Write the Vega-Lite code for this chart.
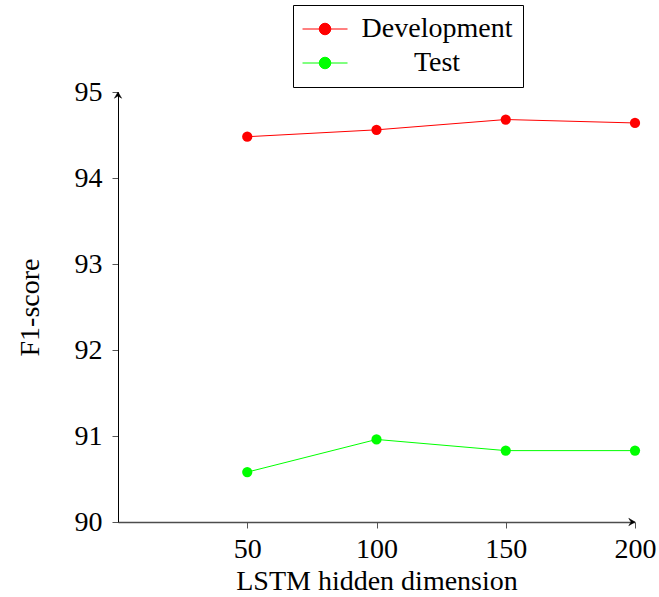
{
  "$schema": "https://vega.github.io/schema/vega-lite/v6.json",
  "width": 517,
  "height": 430,
  "autosize": {"type": "none"},
  "padding": {"left": 118, "top": 92, "right": 24, "bottom": 75},
  "background": "white",
  "config": {
    "view": {"stroke": null},
    "font": "Liberation Serif",
    "axis": {
      "grid": false,
      "labelFont": "Liberation Serif",
      "titleFont": "Liberation Serif",
      "labelFontSize": 28,
      "titleFontSize": 28,
      "titleFontWeight": "normal",
      "labelColor": "black",
      "titleColor": "black",
      "domainColor": "black",
      "tickColor": "#555555",
      "tickSize": 6,
      "labelFlush": false,
      "labelOverlap": false
    }
  },
  "datasets": {
    "scores": [
      {"dim": 50, "f1": 94.48, "set": "Development"},
      {"dim": 100, "f1": 94.56, "set": "Development"},
      {"dim": 150, "f1": 94.68, "set": "Development"},
      {"dim": 200, "f1": 94.64, "set": "Development"},
      {"dim": 50, "f1": 90.58, "set": "Test"},
      {"dim": 100, "f1": 90.96, "set": "Test"},
      {"dim": 150, "f1": 90.83, "set": "Test"},
      {"dim": 200, "f1": 90.83, "set": "Test"}
    ],
    "arrows": [
      {"dim": 0, "f1": 95, "dir": "up"},
      {"dim": 200, "f1": 90, "dir": "right"}
    ]
  },
  "layer": [
    {
      "data": {"name": "scores"},
      "mark": {"type": "line", "strokeWidth": 1},
      "encoding": {
        "x": {
          "field": "dim", "type": "quantitative",
          "scale": {"domain": [0, 200], "nice": false},
          "axis": {"values": [50, 100, 150, 200], "format": "d", "title": "LSTM hidden dimension", "labelFont": "Liberation Serif", "titleFont": "Liberation Serif", "labelPadding": 7, "titlePadding": 4, "domainColor": "#4d4d4d", "domainWidth": 1.5}
        },
        "y": {
          "field": "f1", "type": "quantitative",
          "scale": {"domain": [90, 95], "zero": false, "nice": false},
          "axis": {"values": [90, 91, 92, 93, 94, 95], "format": "d", "title": "F1-score", "labelFont": "Liberation Serif", "titleFont": "Liberation Serif", "labelPadding": 10, "titlePadding": 30}
        },
        "color": {
          "field": "set", "type": "nominal",
          "scale": {"domain": ["Development", "Test"], "range": ["#ff0000", "#00ff00"]},
          "legend": {
            "orient": "none", "legendX": 175, "legendY": -87, "title": null,
            "symbolType": "M-1.93,0H4.07M0.3,0A0.77,0.77 0 1,0 1.84,0A0.77,0.77 0 1,0 0.3,0Z",
            "symbolSize": 225, "symbolStrokeWidth": 1,
            "labelFont": "Liberation Serif", "labelFontSize": 28, "labelColor": "black",
            "labelAlign": "center", "labelOffset": 106, "labelLimit": 400,
            "strokeColor": "black", "fillColor": "white", "padding": 10, "rowPadding": 6,
            "encode": {"symbols": {"update": {"fill": {"scale": "color", "field": "value"}, "stroke": {"scale": "color", "field": "value"}, "opacity": {"value": 1}}}}
          }
        }
      }
    },
    {
      "data": {"name": "scores"},
      "mark": {"type": "point", "filled": true, "size": 105, "opacity": 1},
      "encoding": {
        "x": {"field": "dim", "type": "quantitative"},
        "y": {"field": "f1", "type": "quantitative"},
        "color": {"field": "set", "type": "nominal"}
      }
    },
    {
      "data": {"name": "arrows"},
      "mark": {"type": "point", "filled": true, "size": 300, "opacity": 1, "color": "black", "strokeWidth": 0.5, "stroke": "black"},
      "encoding": {
        "x": {"field": "dim", "type": "quantitative"},
        "y": {"field": "f1", "type": "quantitative"},
        "shape": {
          "field": "dir", "type": "nominal",
          "scale": {"domain": ["up", "right"], "range": ["M0,0L-0.42,0.72L0,0.45L0.42,0.72Z", "M0,0L-0.72,-0.42L-0.45,0L-0.72,0.42Z"]},
          "legend": null
        }
      }
    }
  ]
}
